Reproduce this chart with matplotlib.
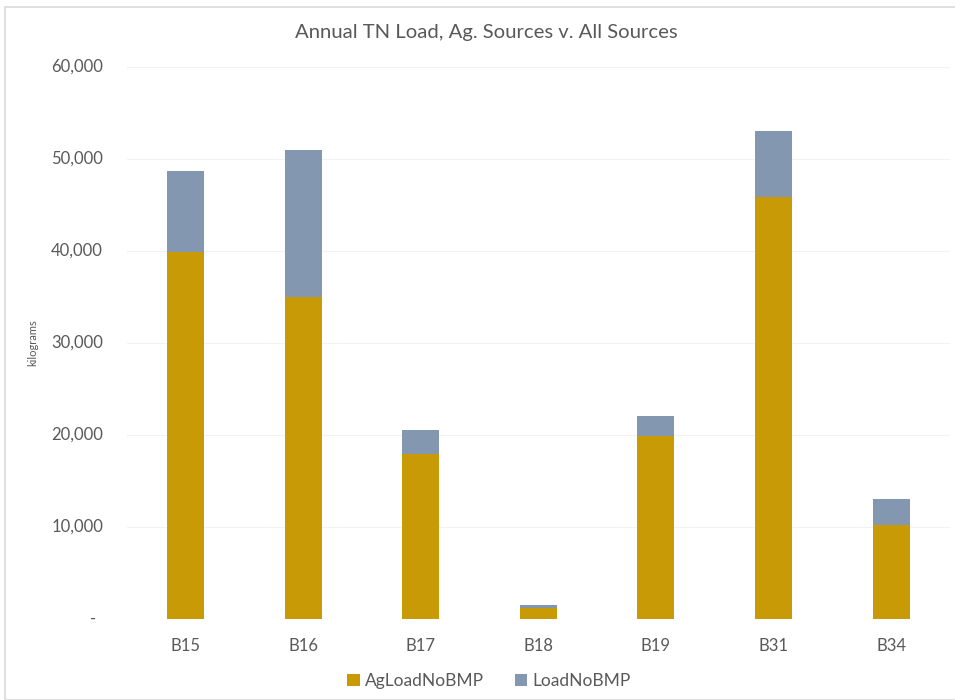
import matplotlib
matplotlib.use("Agg")
import matplotlib.pyplot as plt
from matplotlib.patches import Rectangle

plt.rcParams['font.family'] = ['Lato', 'DejaVu Sans']

categories = ["B15", "B16", "B17", "B18", "B19", "B31", "B34"]
ag_load_no_bmp = [39900, 35000, 17900, 1100, 19800, 45800, 10200]
load_no_bmp = [48700, 50900, 20500, 1500, 22000, 53000, 13000]
y_ticks = [0, 10000, 20000, 30000, 40000, 50000, 60000]

gold = "#C89A06"
slate = "#8497B0"
text_grey = "#595959"

fig = plt.figure(figsize=(9.55, 7.0), dpi=100)
ax = fig.add_axes([0.1327, 0.1164, 0.862, 0.7883])

x = list(range(len(categories)))
width = 0.315
ax.bar(x, load_no_bmp, width=width, color=slate, label="LoadNoBMP", zorder=2)
ax.bar(x, ag_load_no_bmp, width=width, color=gold, label="AgLoadNoBMP", zorder=3)

ax.set_xlim(-0.5, len(categories) - 0.5)
ax.set_ylim(0, 60000)
ax.set_yticks(y_ticks)
ax.set_yticklabels([])
ax.set_xticks(x)
ax.set_xticklabels(categories)
ax.tick_params(axis="both", length=0, labelsize=12, colors=text_grey)
ax.tick_params(axis="x", pad=14)
ax.grid(axis="y", color="#F2F2F2", linewidth=0.8, zorder=0)
for s in ax.spines.values():
    s.set_visible(False)

# accounting-style value labels: zero shown as a dash
ytrans = ax.get_yaxis_transform()
for v in y_ticks:
    if v == 0:
        ax.text(-0.0405, v, "-", transform=ytrans, ha="center", va="center",
                fontsize=12, color=text_grey)
    else:
        ax.text(-0.0288, v, f"{v:,}", transform=ytrans, ha="right", va="center",
                fontsize=12, color=text_grey)

ax.set_ylabel("kilograms", fontsize=8, color=text_grey)
ax.yaxis.set_label_coords(-0.107, 0.5)

fig.text(0.509, 0.953, "Annual TN Load, Ag. Sources v. All Sources",
         ha="center", va="center", fontsize=14.6, color=text_grey)

handles, labels = ax.get_legend_handles_labels()
fig.legend(handles[::-1], labels[::-1], loc="center", bbox_to_anchor=(0.512, 0.027),
           ncol=2, frameon=False, fontsize=12.5, handlelength=0.7, handleheight=0.7,
           handletextpad=0.3, columnspacing=1.8, labelcolor=text_grey)

fig.patches.append(Rectangle((5 / 955, 0), 1, 1 - 7 / 700, transform=fig.transFigure,
                             fill=False, edgecolor="#D9D9D9", linewidth=1.2))

fig.savefig("out.png", dpi=100, facecolor="white")
